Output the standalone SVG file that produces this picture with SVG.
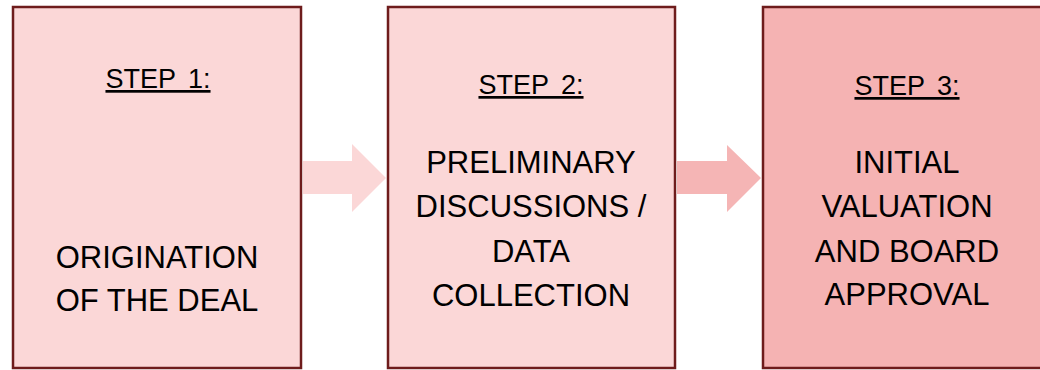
<svg xmlns="http://www.w3.org/2000/svg" width="1040" height="370" viewBox="0 0 1040 370">
<style>
.box{stroke:#6e1c1c;stroke-width:2.5}
.light{fill:#fbd7d7}
.dark{fill:#f5b3b3}
text{font-family:"Liberation Sans",Arial,sans-serif;fill:#000;text-anchor:middle}
.step{font-size:27px;text-decoration:underline;word-spacing:5px}
.body{font-size:31px}
</style>
<rect width="1040" height="370" fill="#fff"/>
<g id="connectors">
<polygon class="light" points="303,161 352,161 352,144 386,178 352,212 352,194 303,194"/>
<polygon fill="#f5b5b5" points="677,161 727,161 727,145 761,178 727,212 727,194 677,194"/>
</g>
<g id="step1">
<rect class="box light" x="13" y="7" width="288" height="361"/>
<text class="step" x="158" y="88">STEP 1:</text>
<text class="body" x="157" y="268">ORIGINATION</text>
<text class="body" x="157" y="311">OF THE DEAL</text>
</g>
<g id="step2">
<rect class="box light" x="388" y="7" width="287" height="361"/>
<text class="step" x="531" y="94">STEP 2:</text>
<text class="body" x="531" y="173">PRELIMINARY</text>
<text class="body" x="531" y="217">DISCUSSIONS /</text>
<text class="body" x="531" y="262">DATA</text>
<text class="body" x="531" y="306">COLLECTION</text>
</g>
<g id="step3">
<rect class="box dark" x="763" y="7" width="290" height="361"/>
<text class="step" x="907" y="95">STEP 3:</text>
<text class="body" x="907" y="173">INITIAL</text>
<text class="body" x="907" y="217">VALUATION</text>
<text class="body" x="907" y="262">AND BOARD</text>
<text class="body" x="907" y="305">APPROVAL</text>
</g>
</svg>
